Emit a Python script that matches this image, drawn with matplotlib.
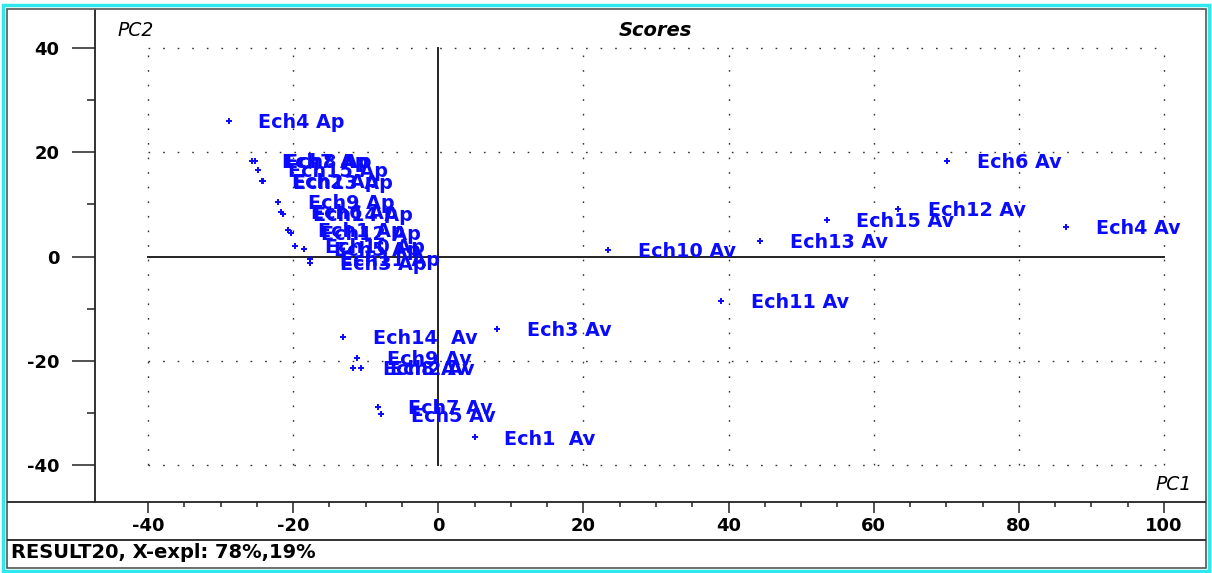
import matplotlib
matplotlib.use("Agg")
import matplotlib.pyplot as plt
from matplotlib.lines import Line2D
from matplotlib.patches import Rectangle
from matplotlib.ticker import FixedLocator

plt.rcParams["axes.unicode_minus"] = False

# Scores PC1 / PC2
labels = ["Ech4 Ap", "Ech7 Ap", "Ech8 Ap", "Ech15 Ap", "Ech2 Ap", "Ech13 Ap",
          "Ech9 Ap", "Ech6 Ap", "Ech14 Ap", "Ech1 Ap", "Ech12 Ap", "Ech10 Ap",
          "Ech5 Ap", "Ech11 Ap", "Ech3 Ap",
          "Ech6 Av", "Ech12 Av", "Ech15 Av", "Ech4 Av", "Ech13 Av", "Ech10 Av",
          "Ech11 Av", "Ech3 Av", "Ech14  Av", "Ech9 Av", "Ech8 Av", "Ech2 Av",
          "Ech7 Av", "Ech5 Av", "Ech1  Av"]
pc1 = [-28.9, -25.7, -25.3, -24.8, -24.3, -24.2,
       -22.1, -21.7, -21.4, -20.7, -20.3, -19.7,
       -18.5, -17.7, -17.7,
       70.1, 63.3, 53.5, 86.5, 44.4, 23.4,
       39.0, 8.1, -13.1, -11.2, -11.7, -10.7,
       -8.3, -7.9, 5.0]
pc2 = [26.0, 18.4, 18.4, 16.6, 14.5, 14.4,
       10.5, 8.6, 8.2, 5.1, 4.6, 2.0,
       1.4, -0.4, -1.2,
       18.4, 9.1, 7.0, 5.7, 3.0, 1.3,
       -8.5, -13.9, -15.4, -19.5, -21.3, -21.3,
       -28.8, -30.3, -34.7]

x_major = [-40, -20, 0, 20, 40, 60, 80, 100]
x_minor = [v for v in range(-40, 101, 5) if v % 20]
y_major = [-40, -20, 0, 20, 40]
y_minor = [-30, -10, 10, 30]

W, H = 1212, 573
BLUE = "#0a0aff"
DARK = "#222222"
FONT = "DejaVu Sans"


def fx(px):
    return px / W


def fy(py):
    return 1 - py / H


fig = plt.figure(figsize=(W / 100, H / 100), dpi=100)
fig.patch.set_facecolor("white")

ax = fig.add_axes([fx(95), fy(502), fx(1205) - fx(95), fy(10) - fy(502)])
ax.set_xlim(-47.3, 105.65)
ax.set_ylim(-47.1, 47.3)
for side in ("top", "right"):
    ax.spines[side].set_visible(False)
ax.spines["left"].set_linewidth(1.3)
ax.spines["left"].set_color(DARK)
ax.spines["bottom"].set_visible(False)

ax.xaxis.set_major_locator(FixedLocator(x_major))
ax.xaxis.set_minor_locator(FixedLocator(x_minor))
ax.yaxis.set_major_locator(FixedLocator(y_major))
ax.yaxis.set_minor_locator(FixedLocator(y_minor))
ax.tick_params(axis="x", which="major", direction="out", length=8, width=1.1,
               color=DARK, pad=2.5)
ax.tick_params(axis="x", which="minor", direction="out", length=3.6, width=1.1,
               color=DARK)
ax.tick_params(axis="y", which="major", direction="out", length=16.5, width=1.1,
               color=DARK, pad=9)
ax.tick_params(axis="y", which="minor", direction="out", length=6, width=1.1,
               color=DARK)
for lab in ax.get_xticklabels() + ax.get_yticklabels():
    lab.set_fontfamily(FONT)
    lab.set_fontweight("bold")
    lab.set_fontsize(13)
    lab.set_color("black")

# dotted grid inside the data range
x0, x1 = x_major[0], x_major[-1]
y0, y1 = y_major[0], y_major[-1]
dots = dict(color="#333333", lw=1.0, linestyle=(0, (1.2, 9.3)), zorder=1)
for xv in x_major:
    if xv != 0:
        ax.plot([xv, xv], [y0, y1], **dots)
for yv in y_major:
    if yv != 0:
        ax.plot([x0, x1], [yv, yv], **dots)
ax.plot([x0, x1], [0, 0], color=DARK, lw=1.4, zorder=2)
ax.plot([0, 0], [y0, y1], color=DARK, lw=1.4, zorder=2)

ax.plot(pc1, pc2, linestyle="none", marker="+", markersize=5, mew=1.4,
        color=BLUE, zorder=3)
for name, x, y in zip(labels, pc1, pc2):
    ax.annotate(name, (x, y), xytext=(21.5, -1.2), textcoords="offset points",
                ha="left", va="center", color=BLUE, fontsize=13.8,
                fontweight="bold", family=FONT, zorder=4)

fig.text(fx(117), fy(31), "PC2", ha="left", va="center", fontsize=13.5,
         style="italic", family=FONT)
fig.text(fx(655), fy(31), "Scores", ha="center", va="center", fontsize=14,
         style="italic", fontweight="bold", family=FONT)
fig.text(fx(1192), fy(484), "PC1", ha="right", va="center", fontsize=13.5,
         style="italic", family=FONT)
fig.text(fx(11), fy(553), "RESULT20, X-expl: 78%,19%", ha="left", va="center",
         fontsize=14, fontweight="bold", family=FONT)

# window frame
for py in (502, 540):
    fig.add_artist(Line2D([fx(8), fx(1205)], [fy(py), fy(py)], color=DARK,
                          lw=1.3))
fig.add_artist(Rectangle((fx(7), fy(568)), fx(1199), fy(9) - fy(568),
                         fill=False, edgecolor="#555555", lw=1.2))
fig.add_artist(Rectangle((fx(3), fy(571)), fx(1206), fy(5) - fy(571),
                         fill=False, edgecolor="#2ee8ee", lw=2.5))

fig.savefig("out.png", dpi=100, facecolor="white")
